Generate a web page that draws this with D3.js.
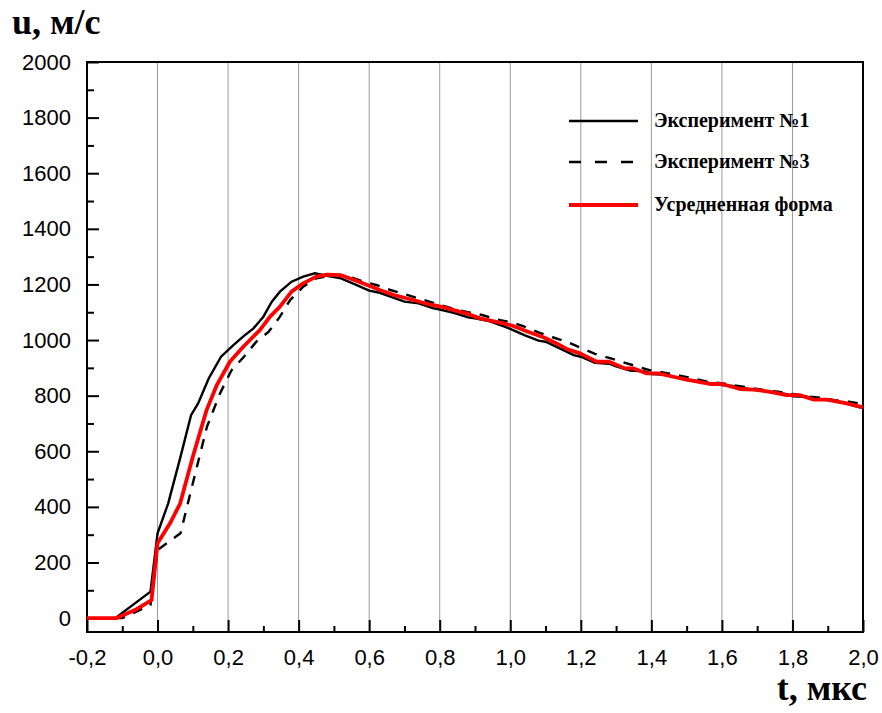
<!DOCTYPE html>
<html>
<head>
<meta charset="utf-8">
<script src="https://cdn.jsdelivr.net/npm/d3@7"></script>
<style>
  html, body { margin: 0; padding: 0; background: #fff; }
  svg { display: block; }
</style>
</head>
<body>
<svg id="chart" width="882" height="713"></svg>
<script>
// Particle velocity u(t): two experiments and their averaged profile
const tExp1 = [-0.2, -0.12, -0.02, 0.0, 0.03, 0.065, 0.095, 0.115, 0.145, 0.18, 0.215, 0.245, 0.272, 0.30, 0.324, 0.347, 0.38, 0.413, 0.446, 0.465,
  0.52, 0.56, 0.6, 0.63, 0.67, 0.7, 0.74, 0.78, 0.8, 0.84, 0.88, 0.9, 0.94, 0.98, 1.0, 1.04, 1.08, 1.1, 1.14, 1.18, 1.2, 1.24, 1.28, 1.3,
  1.34, 1.38, 1.4, 1.44, 1.48, 1.5, 1.54, 1.58, 1.6, 1.64, 1.68, 1.7, 1.74, 1.78, 1.8, 1.84, 1.88, 1.9, 1.94, 1.98, 2.0];
const uExp1 = [0, 0, 95, 305, 412, 580, 730, 772, 862, 940, 982, 1015, 1042, 1084, 1138, 1174, 1210, 1228, 1240, 1235,
  1222, 1200, 1178, 1170, 1152, 1138, 1132, 1115, 1110, 1098, 1082, 1078, 1068, 1050, 1040, 1018, 998, 994, 970, 946, 940, 918, 915, 905,
  890, 888, 878, 875, 862, 856, 852, 840, 838, 834, 822, 820, 812, 806, 798, 796, 786, 784, 776, 762, 755];

const tExp3 = [-0.12, -0.1, -0.02, 0.0, 0.065, 0.1, 0.14, 0.177, 0.21, 0.245, 0.28, 0.315, 0.347, 0.376, 0.413, 0.45, 0.5, 0.54,
  0.58, 0.62, 0.66, 0.7, 0.74, 0.79, 0.84, 0.88, 0.92, 0.96, 1.01, 1.04, 1.08, 1.12, 1.16, 1.2, 1.24, 1.28, 1.32, 1.36, 1.4,
  1.44, 1.48, 1.52, 1.56, 1.6, 1.64, 1.68, 1.72, 1.76, 1.8, 1.84, 1.88, 1.92, 1.96, 2.0];
const uExp3 = [0, 0, 47, 245, 305, 485, 688, 808, 892, 940, 994, 1030, 1084, 1144, 1192, 1222, 1234, 1230,
  1212, 1198, 1180, 1165, 1150, 1130, 1112, 1100, 1090, 1075, 1062, 1048, 1028, 1010, 994, 972, 950, 936, 920, 905, 890,
  882, 872, 862, 850, 845, 836, 828, 820, 814, 806, 798, 792, 784, 778, 770];

const tAvg = [-0.2, -0.116, -0.064, -0.017, 0.0, 0.035, 0.064, 0.1, 0.139, 0.168, 0.205, 0.243, 0.29, 0.319, 0.347, 0.38, 0.413, 0.45, 0.48,
  0.52, 0.56, 0.6, 0.63, 0.67, 0.7, 0.725, 0.77, 0.81, 0.85, 0.88, 0.914, 0.95, 0.98, 1.01, 1.05, 1.094, 1.14, 1.16, 1.198, 1.245,
  1.28, 1.325, 1.35, 1.387, 1.42, 1.462, 1.5, 1.566, 1.6, 1.651, 1.69, 1.737, 1.784, 1.82, 1.859, 1.897, 1.954, 2.0];
const uAvg = [0, 0, 29, 65, 269, 340, 412, 580, 748, 838, 922, 976, 1036, 1084, 1120, 1174, 1204, 1228, 1235,
  1233, 1215, 1195, 1180, 1162, 1152, 1144, 1128, 1118, 1104, 1094, 1078, 1068, 1060, 1050, 1030, 1010, 982, 968, 952, 922,
  922, 898, 898, 880, 880, 868, 858, 842, 842, 824, 822, 814, 802, 802, 786, 786, 772, 758];

const xTicks = [-0.2, 0.0, 0.2, 0.4, 0.6, 0.8, 1.0, 1.2, 1.4, 1.6, 1.8, 2.0];
const yTicks = [0, 200, 400, 600, 800, 1000, 1200, 1400, 1600, 1800, 2000];
const legendLabels = ["Эксперимент №1", "Эксперимент №3", "Усредненная форма"];

const svg = d3.select("#chart");
const plotLeft = 87, plotRight = 863, plotTop = 62, plotBottom = 632;

const x = d3.scaleLinear().domain([-0.2, 2.0]).range([plotLeft, plotRight]);
const y = d3.scaleLinear().domain([-50, 2000]).range([plotBottom, plotTop]);

const fmt = d => d3.format(".1f")(d).replace(".", ",").replace("−", "-");

// vertical grid
svg.append("g").selectAll("line")
  .data(xTicks.filter(d => d > -0.2 && d < 2.0))
  .join("line")
  .attr("x1", d => x(d)).attr("x2", d => x(d))
  .attr("y1", plotTop).attr("y2", plotBottom)
  .attr("stroke", "#9a9a9a").attr("stroke-width", 1);

// bottom axis, inward ticks
const xMinor = d3.range(-0.1, 2.0, 0.2).map(v => +v.toFixed(2));
const xAxis = svg.append("g").attr("transform", `translate(0,${plotBottom})`);
xAxis.call(d3.axisBottom(x).tickValues(xTicks).tickFormat(fmt).tickSize(-12).tickPadding(17));
xAxis.append("g").call(d3.axisBottom(x).tickValues(xMinor).tickFormat("").tickSize(-6));
xAxis.selectAll(".domain").remove();
xAxis.selectAll(".tick line").attr("stroke", "#000").attr("stroke-width", 2);
xAxis.selectAll(".tick text")
  .attr("font-family", "'Liberation Sans', Arial, sans-serif")
  .attr("font-size", 22).attr("fill", "#000");

// left axis, inward ticks
const yMinor = d3.range(100, 2000, 200);
const yAxis = svg.append("g").attr("transform", `translate(${plotLeft},0)`);
yAxis.call(d3.axisLeft(y).tickValues(yTicks).tickFormat(d3.format("d")).tickSize(-12).tickPadding(16));
yAxis.append("g").call(d3.axisLeft(y).tickValues(yMinor).tickFormat("").tickSize(-7));
yAxis.selectAll(".domain").remove();
yAxis.selectAll(".tick line").attr("stroke", "#000").attr("stroke-width", 2);
yAxis.selectAll(".tick text")
  .attr("font-family", "'Liberation Sans', Arial, sans-serif")
  .attr("font-size", 22).attr("fill", "#000");

// frame
svg.append("rect")
  .attr("x", plotLeft).attr("y", plotTop)
  .attr("width", plotRight - plotLeft).attr("height", plotBottom - plotTop)
  .attr("fill", "none").attr("stroke", "#000").attr("stroke-width", 2);

const line = d3.line().x(d => x(d[0])).y(d => y(d[1]));
const zip = (ts, us) => ts.map((t, i) => [t, us[i]]);

const plot = svg.append("g");
plot.append("path").datum(zip(tExp3, uExp3))
  .attr("d", line).attr("fill", "none")
  .attr("stroke", "#000").attr("stroke-width", 2.4).attr("stroke-dasharray", "10,9");
plot.append("path").datum(zip(tExp1, uExp1))
  .attr("d", line).attr("fill", "none")
  .attr("stroke", "#000").attr("stroke-width", 2.4);
plot.append("path").datum(zip(tAvg, uAvg))
  .attr("d", line).attr("fill", "none")
  .attr("stroke", "#ff0000").attr("stroke-width", 3.8).attr("stroke-linejoin", "round");

// legend
const legendStyles = [
  { stroke: "#000", width: 2.6, dash: null },
  { stroke: "#000", width: 2.6, dash: "12,14" },
  { stroke: "#ff0000", width: 4.2, dash: null }
];
const legendRows = [121, 162, 205];
const legend = svg.append("g");
legendLabels.forEach((lab, i) => {
  const st = legendStyles[i];
  legend.append("line")
    .attr("x1", 569).attr("x2", 638)
    .attr("y1", legendRows[i]).attr("y2", legendRows[i])
    .attr("stroke", st.stroke).attr("stroke-width", st.width)
    .attr("stroke-dasharray", st.dash);
  legend.append("text")
    .attr("x", 654).attr("y", legendRows[i] + 6)
    .attr("font-family", "'Liberation Serif', 'Times New Roman', serif")
    .attr("font-weight", "bold").attr("font-size", 20)
    .text(lab);
});

// axis titles
svg.append("text")
  .attr("x", 12).attr("y", 34)
  .attr("font-family", "'Liberation Serif', 'Times New Roman', serif")
  .attr("font-weight", "bold").attr("font-size", 36)
  .text("u, м/с");
svg.append("text")
  .attr("x", 867).attr("y", 700).attr("text-anchor", "end")
  .attr("font-family", "'Liberation Serif', 'Times New Roman', serif")
  .attr("font-weight", "bold").attr("font-size", 36)
  .text("t, мкс");
</script>
</body>
</html>
